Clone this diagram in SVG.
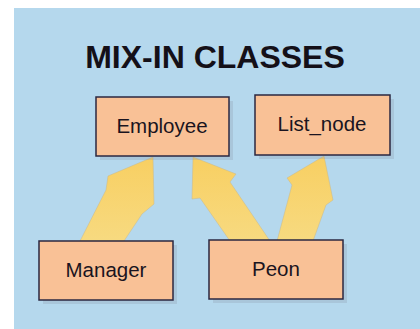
<svg xmlns="http://www.w3.org/2000/svg" width="420" height="329" viewBox="0 0 420 329">
  <defs>
    <linearGradient id="arrowGrad" x1="0" y1="1" x2="0" y2="0">
      <stop offset="0" stop-color="#f7da80"/>
      <stop offset="1" stop-color="#f8cf62"/>
    </linearGradient>
    <style>
      .box { fill: #f9c196; stroke: #2b2740; stroke-width: 1.5; }
      .shadow { fill: #8f9aae; opacity: 0.3; }
      .label { font-family: "Liberation Sans", Arial, sans-serif; font-size: 20.5px; fill: #1a1420; text-anchor: middle; }
      .title { font-family: "Liberation Sans", Arial, sans-serif; font-size: 32px; font-weight: bold; fill: #141018; text-anchor: middle; }
      .arrow { fill: url(#arrowGrad); stroke: #c9b98a; stroke-width: 0.5; }
    </style>
  </defs>
  <rect x="0" y="0" width="420" height="329" fill="#ffffff"/>
  <rect x="14" y="8" width="406" height="321" fill="#b5d8ed"/>
  <text class="title" x="215" y="68">MIX-IN CLASSES</text>

  <g id="connectors">
    <path class="arrow" d="M80,241 L106,190 L108,176 L153,157 L154,204 L142,214 L124,241 Z"/>
    <path class="arrow" d="M230,241 L200,198 L192,199 L193,157 L236,174 L230,182 L270,241 Z"/>
    <path class="arrow" d="M277,241 L292,185 L287,178 L324,156 L333,200 L326,205 L313,241 Z"/>
  </g>

  <g id="employee">
    <rect class="shadow" x="100" y="101" width="133" height="59"/>
    <rect class="box" x="96" y="97" width="133" height="59"/>
    <text class="label" x="162" y="133">Employee</text>
  </g>
  <g id="list_node">
    <rect class="shadow" x="259" y="99" width="135" height="60"/>
    <rect class="box" x="255" y="95" width="135" height="60"/>
    <text class="label" x="322" y="131">List_node</text>
  </g>
  <g id="manager">
    <rect class="shadow" x="43" y="245" width="134" height="59"/>
    <rect class="box" x="39" y="241" width="134" height="59"/>
    <text class="label" x="106" y="277">Manager</text>
  </g>
  <g id="peon">
    <rect class="shadow" x="213" y="244" width="134" height="59"/>
    <rect class="box" x="209" y="240" width="134" height="59"/>
    <text class="label" x="276" y="276">Peon</text>
  </g>
</svg>
